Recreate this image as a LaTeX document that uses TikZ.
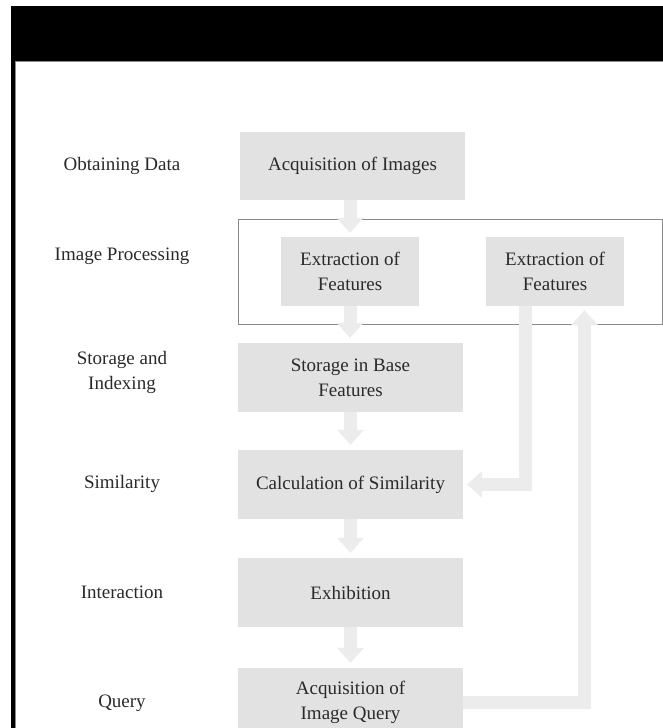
\documentclass[tikz,border=0pt]{standalone}
\usepackage{fontspec}
\setmainfont{Liberation Serif}
\usetikzlibrary{arrows.meta}
\definecolor{boxgray}{HTML}{E2E2E2}
\definecolor{arrgray}{HTML}{ECECEC}
\definecolor{framegray}{HTML}{8A8A8A}
\definecolor{txt}{HTML}{2A2A2A}
\begin{document}
\begin{tikzpicture}[x=1pt,y=-1pt,
  stepbox/.style={fill=boxgray, inner sep=0pt, align=center, text=txt,
    font=\fontsize{19}{25}\selectfont, minimum width=225pt, minimum height=69pt},
  smallbox/.style={stepbox, minimum width=138pt},
  lbl/.style={align=center, text=txt, font=\fontsize{19}{25}\selectfont},
  fat/.style={draw=arrgray, line width=13pt,
    -{Triangle[width=27pt,length=15pt,line width=0pt]}, shorten >=5pt},
  grpframe/.style={draw=framegray, line width=1.2pt, inner sep=0pt}]
\useasboundingbox (0,0) rectangle (663,728);
\clip (0,0) rectangle (663,728);
\fill[white] (0,0) rectangle (663,728);
% black header and left border
\fill[black] (11,6) rectangle (663,61);
\fill[black] (11,61) rectangle (15,728);
\draw[framegray, line width=1pt] (15.5,728) -- (15.5,61.5) -- (663,61.5);
% group frame
\node[grpframe, minimum width=424pt, minimum height=105pt] (grp) at (450.5,272) {};
% boxes
\node[stepbox, minimum height=68pt] (acq) at (352.5,166) {Acquisition of Images};
\node[smallbox] (ext1) at (350,271.5) {Extraction of\\Features};
\node[smallbox] (ext2) at (555,271.5) {Extraction of\\Features};
\node[stepbox] (sto) at (350.5,377.5) {Storage in Base\\Features};
\node[stepbox] (calc) at (350.5,484.5) {Calculation of Similarity};
\node[stepbox] (exh) at (350.5,592.5) {Exhibition};
\node[stepbox] (qry) at (350.5,702.5) {Acquisition of\\Image Query};
% left labels
\node[lbl] (l1) at (122,166) {Obtaining Data};
\node[lbl] (l2) at (122,256) {Image Processing};
\node[lbl] (l3) at (122,372) {Storage and\\Indexing};
\node[lbl] (l4) at (122,484) {Similarity};
\node[lbl] (l5) at (122,592) {Interaction};
\node[lbl] (l6) at (122,703) {Query};
% arrows
\draw[fat, shorten >=4pt] (acq.south -| ext1.north) -- (ext1.north);
\draw[fat] (ext1.south) -- (sto.north -| ext1.south);
\draw[fat] (sto.south) -- (calc.north);
\draw[fat] (calc.south) -- (exh.north);
\draw[fat] (exh.south) -- (qry.north);
\draw[fat, shorten >=4pt] ([xshift=-29.5pt]ext2.south) |- (calc.east);
\draw[fat, shorten >=4pt] (qry.east) -| ([xshift=29.5pt]ext2.south);
\end{tikzpicture}
\end{document}
